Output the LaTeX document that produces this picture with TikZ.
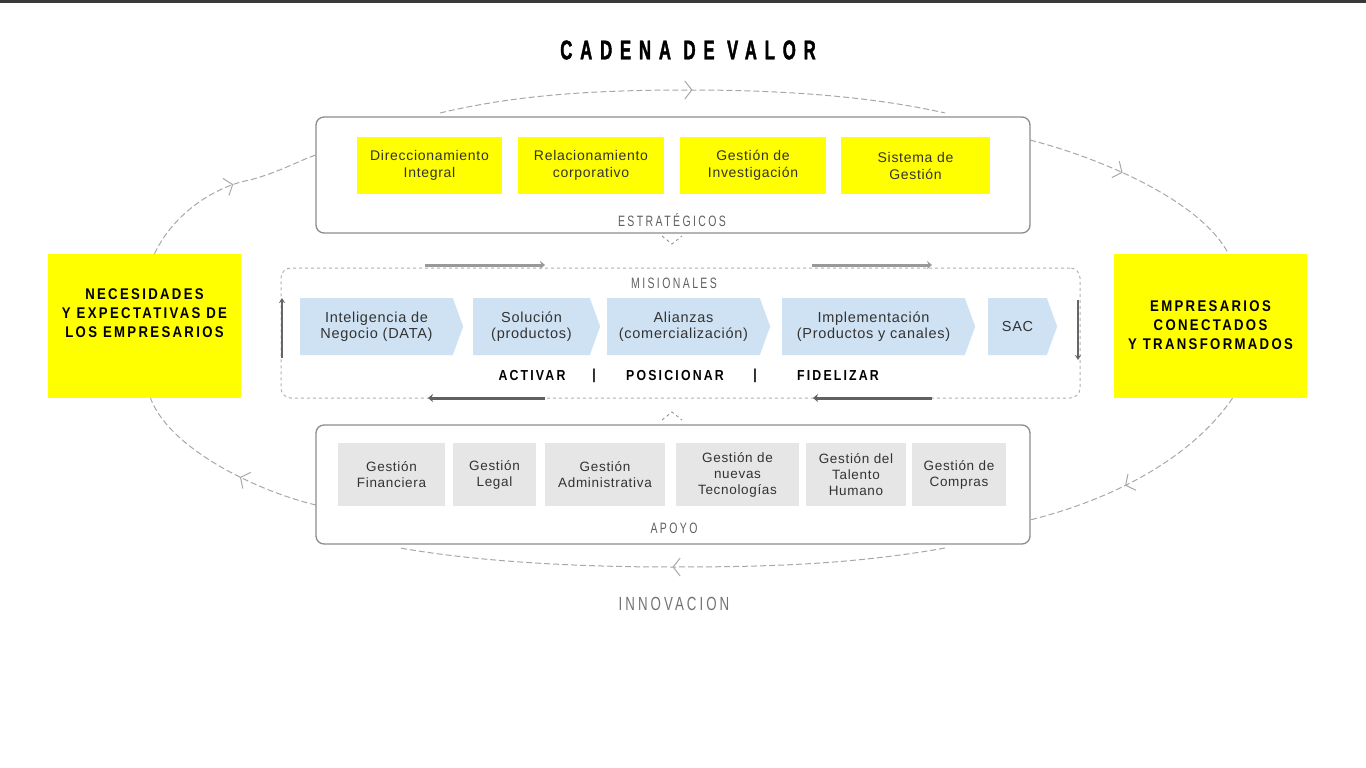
\documentclass[tikz,border=0pt]{standalone}
\usepackage{fontspec}
\setmainfont{Liberation Sans}
\newfontfamily\titlefont[FakeStretch=0.62,LetterSpace=29,FakeBold=1.5]{Liberation Sans Bold}
\newfontfamily\capsfont[FakeStretch=0.85,LetterSpace=15]{Liberation Sans Bold}
\newfontfamily\grayfont[FakeStretch=0.7,LetterSpace=16]{Liberation Sans}
\newfontfamily\boxfont[LetterSpace=5]{Liberation Sans}
\usetikzlibrary{shapes.symbols,arrows.meta,decorations.markings,calc}
\definecolor{ylw}{HTML}{FFFF00}
\definecolor{lblue}{HTML}{CFE2F3}
\definecolor{lgray}{HTML}{E6E6E6}
\definecolor{txt}{HTML}{333333}
\definecolor{arcc}{HTML}{A8A8A8}
\tikzset{
  bigbox/.style={draw=black!45, line width=1.3pt, rounded corners=8pt, fill=white},
  ybox/.style={fill=ylw, align=center, inner sep=0pt, text=txt, font=\boxfont\fontsize{14}{17}\selectfont},
  sidebox/.style={fill=ylw, minimum width=193pt, minimum height=144pt},
  sidetext/.style={align=center, inner sep=0pt, text=black, font=\capsfont\fontsize{15.5}{19}\selectfont},
  chev/.style={signal, signal to=east, signal pointer angle=140, fill=lblue, align=center, inner sep=0pt, text=txt, font=\boxfont\fontsize{14.5}{16}\selectfont},
  gbox/.style={fill=lgray, align=center, inner sep=0pt, text=txt, font=\boxfont\fontsize{13.5}{16}\selectfont},
  seclabel/.style={text=black!62, font=\grayfont\fontsize{15}{16}\selectfont},
  stage/.style={text=black, font=\capsfont\fontsize{14.5}{16}\selectfont},
  arc/.style={draw=arcc, line width=1pt, dash pattern=on 6pt off 3pt,
    decoration={markings, mark=at position #1 with {\arrow[solid,line width=1pt]{Straight Barb[length=7pt,width=18pt]}}},
    postaction={decorate}},
  flowlight/.style={draw=black!40, line width=3pt, -{Stealth[length=5pt,width=8pt]}},
  flowdark/.style={draw=black!62, line width=3pt, -{Stealth[length=5pt,width=8pt]}},
  vflow/.style={draw=black!60, line width=1.8pt, -{Stealth[length=5pt,width=6pt]}},
}
\begin{document}
\begin{tikzpicture}[x=1pt,y=-1pt]
\useasboundingbox (0,0) rectangle (1366,768);
\fill[white] (0,0) rectangle (1366,768);
\fill[black!78] (0,0) rectangle (1366,3);

% title
\node[font=\titlefont\fontsize{27}{28}\selectfont, text=black] (title) at (688,50) {CADENA DE VALOR};

% side boxes
\node[sidebox] (nec) at (144.5,326) {};
\node[sidetext] (nect) at (144.5,313) {NECESIDADES\\Y EXPECTATIVAS DE\\LOS EMPRESARIOS};
\node[sidebox] (emp) at (1210.5,326) {};
\node[sidetext] (empt) at (1210.5,325) {EMPRESARIOS\\CONECTADOS\\Y TRANSFORMADOS};

% coordinates for arcs
\coordinate (tl) at (440,113);
\coordinate (tc) at (690,90);
\coordinate (tr) at (945,113);
\coordinate (sl) at (316,155);
\coordinate (sr) at (1030,140);
\coordinate (bl) at (316,505);
\coordinate (br) at (1030,520);
\coordinate (bbl) at (400,548);
\coordinate (bbr) at (945,548);

% big loop arcs
\draw[arc=0.5] (tl) .. controls (520,94) and (600,90) .. (tc) .. controls (780,90) and (870,96) .. (tr);
\draw[arc=0.55] ([xshift=10pt]nec.north) .. controls (175,210) and (220,185) .. (250,180) .. controls (280,172) and (300,160) .. (sl);
\draw[arc=0.42] (sr) .. controls (1100,158) and (1200,200) .. ([xshift=18pt]emp.north);
\draw[arc=0.58] ([xshift=22pt]emp.south) .. controls (1190,460) and (1110,500) .. (br);
\draw[arc=0.5] (bbr) .. controls (850,565) and (760,567) .. (672,567) .. controls (580,567) and (480,562) .. (bbl);
\draw[arc=0.4] (bl) .. controls (260,492) and (170,450) .. ([xshift=6pt]nec.south);

% strategic box
\node[bigbox, minimum width=714pt, minimum height=116pt] (strat) at (673,175) {};
\node[ybox, minimum width=145pt, minimum height=57pt] (s1) at (429.5,165.5) {Direccionamiento\\Integral};
\node[ybox, minimum width=146pt, minimum height=57pt] (s2) at (591,165.5) {Relacionamiento\\corporativo};
\node[ybox, minimum width=146pt, minimum height=57pt] (s3) at (753,165.5) {Gestión de\\Investigación};
\node[ybox, minimum width=149pt, minimum height=57pt] (s4) at (915.5,165.5) {Sistema de\\Gestión};
\node[seclabel] (lstrat) at (672,220) {ESTRATÉGICOS};
\draw[black!45, line width=0.8pt, dashed] (662,236) -- (672,244) -- (682,236);

% mission box
\node[draw=black!30, dashed, line width=1pt, rounded corners=10pt, minimum width=799pt, minimum height=130pt] (mis) at (680.5,333) {};
\node[seclabel] (lmis) at (674,283) {MISIONALES};
\node[chev, minimum width=163pt, minimum height=57pt] (m1) at (376.5,326.5) {Inteligencia de\\Negocio (DATA)};
\node[chev, minimum width=127pt, minimum height=57pt] (m2) at (531.5,326.5) {Solución\\(productos)};
\node[chev, minimum width=163pt, minimum height=57pt] (m3) at (683.5,326.5) {Alianzas\\(comercialización)};
\node[chev, minimum width=193pt, minimum height=57pt] (m4) at (873.5,326.5) {Implementación\\(Productos y canales)};
\node[chev, minimum width=69pt, minimum height=57pt] (m5) at (1017.5,326.5) {SAC};
\node[stage] (act) at (532,376) {ACTIVAR};
\node[stage] (sep1) at (594,376) {|};
\node[stage] (pos) at (675,376) {POSICIONAR};
\node[stage] (sep2) at (755,376) {|};
\node[stage] (fid) at (838,376) {FIDELIZAR};

\coordinate (a1s) at (425,265); \coordinate (a1e) at (545,265);
\coordinate (a2s) at (812,265); \coordinate (a2e) at (932,265);
\coordinate (a3s) at (545,398); \coordinate (a3e) at (428,398);
\coordinate (a4s) at (932,398); \coordinate (a4e) at (813,398);
\coordinate (v1s) at (282,358); \coordinate (v1e) at (282,298);
\coordinate (v2s) at (1078,300); \coordinate (v2e) at (1078,360);
\draw[flowlight] (a1s) -- (a1e);
\draw[flowlight] (a2s) -- (a2e);
\draw[flowdark] (a3s) -- (a3e);
\draw[flowdark] (a4s) -- (a4e);
\draw[vflow] (v1s) -- (v1e);
\draw[vflow] (v2s) -- (v2e);

% support box
\draw[black!45, line width=0.8pt, dashed] (662,420) -- (672,412) -- (682,420);
\node[bigbox, minimum width=714pt, minimum height=119pt] (sup) at (673,484.5) {};
\node[gbox, minimum width=107pt, minimum height=63pt] (g1) at (391.5,474.5) {Gestión\\Financiera};
\node[gbox, minimum width=83pt, minimum height=63pt] (g2) at (494.5,474.5) {Gestión\\Legal};
\node[gbox, minimum width=120pt, minimum height=63pt] (g3) at (605,474.5) {Gestión\\Administrativa};
\node[gbox, minimum width=123pt, minimum height=63pt] (g4) at (737.5,474.5) {Gestión de\\nuevas\\Tecnologías};
\node[gbox, minimum width=100pt, minimum height=63pt] (g5) at (856,474.5) {Gestión del\\Talento\\Humano};
\node[gbox, minimum width=94pt, minimum height=63pt] (g6) at (959,474.5) {Gestión de\\Compras};
\node[seclabel] (lsup) at (674,528) {APOYO};

\node[text=black!55, font=\grayfont\fontsize{19}{20}\selectfont] (innov) at (674,604) {INNOVACION};
\end{tikzpicture}
\end{document}
